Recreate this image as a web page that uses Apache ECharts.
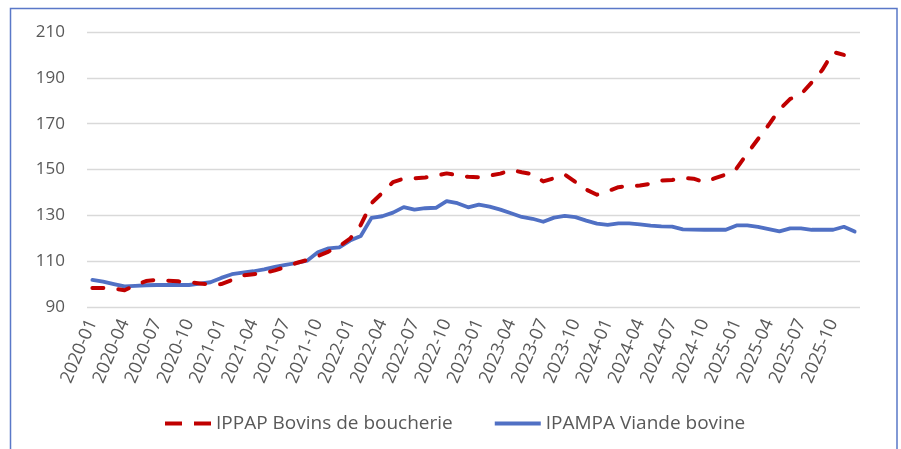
<!DOCTYPE html>
<html>
<head>
<meta charset="utf-8">
<script src="https://cdn.jsdelivr.net/npm/echarts@6/dist/echarts.min.js"></script>
<style>
  html, body { margin: 0; padding: 0; background: #ffffff; }
  #chart { width: 901px; height: 449px; }
</style>
</head>
<body>
<div id="chart"></div>
<script>
// Monthly periods, January 2020 to December 2025
const months = [];
for (let y = 2020; y <= 2025; y++) {
  for (let m = 1; m <= 12; m++) {
    months.push(y + '-' + String(m).padStart(2, '0'));
  }
}

// IPPAP - beef cattle producer price index (last month not yet published)
const ippapBovins = [
  98.3, 98.3, 98.0, 97.3, 99.5, 101.3, 101.8, 101.5, 101.2, 100.8, 100.3, 99.8,
  100.0, 101.8, 103.8, 104.3, 104.8, 106.0, 107.5, 109.2, 110.5, 112.2, 114.2, 116.5,
  119.8, 125.8, 135.3, 139.8, 144.5, 146.0, 146.2, 146.5, 147.3, 148.3, 147.5, 146.8,
  146.6, 147.3, 148.2, 149.8, 148.8, 148.0, 144.8, 146.2, 147.8, 144.5, 141.2, 139.0,
  140.5, 142.3, 142.8, 143.0, 143.8, 145.2, 145.4, 146.3, 146.0, 144.5, 146.2, 147.8,
  150.5, 157.0, 163.3, 169.5, 176.2, 180.8, 182.8, 188.0, 193.5, 201.3, 200.0, null
];

// IPAMPA - beef meat input price index
const ipampaViande = [
  101.8, 101.1, 100.0, 99.0, 99.2, 99.5, 99.6, 99.6, 99.6, 99.6, 100.2, 100.8,
  102.7, 104.3, 105.0, 105.6, 106.4, 107.5, 108.4, 109.2, 110.2, 113.9, 115.6, 116.0,
  119.0, 121.0, 128.9, 129.6, 131.2, 133.6, 132.5, 133.1, 133.3, 136.2, 135.3, 133.5,
  134.7, 133.8, 132.5, 130.9, 129.3, 128.5, 127.2, 129.0, 129.8, 129.2, 127.7, 126.4,
  125.8, 126.5, 126.5, 126.1, 125.5, 125.2, 125.1, 123.9, 123.8, 123.7, 123.7, 123.7,
  125.6, 125.6, 125.0, 124.0, 123.0, 124.3, 124.3, 123.7, 123.7, 123.7, 125.0, 122.9
];

const seriesNames = ['IPPAP Bovins de boucherie', 'IPAMPA Viande bovine'];

const FONT = '"Open Sans", Lato, sans-serif';
const TEXT = '#595959';
const RED = '#c00000';
const BLUE = '#5070c4';

// legend keys: a two-dash stroke and a solid stroke
const ICON_DASHED = 'path://M0,0H17V4H0Z M29,0H46V4H29Z';
const ICON_SOLID = 'path://M0,0H46V4H0Z';

const chart = echarts.init(document.getElementById('chart'), null, { renderer: 'canvas' });

chart.setOption({
  backgroundColor: '#ffffff',
  animation: false,
  textStyle: { fontFamily: FONT },
  graphic: [{
    type: 'rect',
    silent: true,
    shape: { x: 10.5, y: 8.5, width: 886.5, height: 460 },
    style: { fill: 'none', stroke: '#5a78c8', lineWidth: 1.5 }
  }],
  grid: { left: 87, right: 41, top: 32, bottom: 142, containLabel: false },
  legend: {
    bottom: 11,
    left: 160,
    itemWidth: 46,
    itemHeight: 4,
    itemGap: 42,
    textStyle: { color: TEXT, fontSize: 19, fontFamily: FONT, padding: [0, 0, 0, 0] },
    data: [
      { name: seriesNames[0], icon: ICON_DASHED },
      { name: seriesNames[1], icon: ICON_SOLID }
    ]
  },
  xAxis: {
    type: 'category',
    data: months,
    boundaryGap: true,
    axisLine: { show: false },
    axisTick: { show: false },
    axisLabel: {
      interval: 2,
      rotate: 67,
      margin: 13,
      color: TEXT,
      fontSize: 18,
      fontFamily: FONT
    },
    splitLine: { show: false }
  },
  yAxis: {
    type: 'value',
    min: 90,
    max: 210,
    interval: 20,
    axisLine: { show: false },
    axisTick: { show: false },
    axisLabel: { color: TEXT, fontSize: 17, fontFamily: FONT, margin: 22 },
    splitLine: { lineStyle: { color: '#d9d9d9', width: 1.3 } }
  },
  series: [
    {
      name: seriesNames[0],
      type: 'line',
      data: ippapBovins,
      symbol: 'none',
      connectNulls: false,
      itemStyle: { color: RED },
      lineStyle: { color: RED, width: 4, type: [11, 15], cap: 'round', join: 'round' },
      z: 3
    },
    {
      name: seriesNames[1],
      type: 'line',
      data: ipampaViande,
      symbol: 'none',
      itemStyle: { color: BLUE },
      lineStyle: { color: BLUE, width: 3.8, cap: 'round', join: 'round' },
      z: 2
    }
  ]
});
</script>
</body>
</html>
